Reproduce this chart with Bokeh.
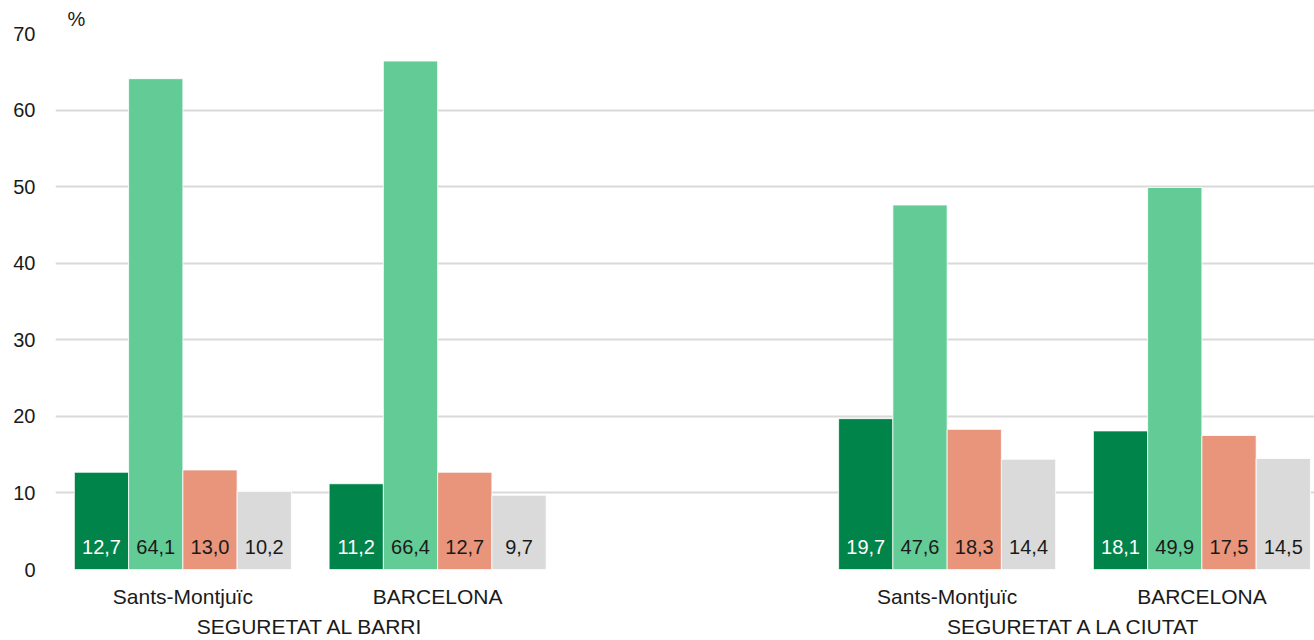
from bokeh.plotting import figure
from bokeh.models import Range1d, FixedTicker, LinearAxis, ColumnDataSource
from bokeh.core.properties import value
from bokeh.embed import file_html
from bokeh.resources import INLINE

subcats = ["Sants-Montjuïc", "BARCELONA", "Sants-Montjuïc", "BARCELONA"]
groups = ["SEGURETAT AL BARRI", "SEGURETAT A LA CIUTAT"]
series = ["S1", "S2", "S3", "S4"]
colors = ["#00844A", "#63CB95", "#E8957C", "#DADADA"]
label_colors = ["white", "#1a1a1a", "#1a1a1a", "#1a1a1a"]
vals = {
    "S1": [12.7, 11.2, 19.7, 18.1],
    "S2": [64.1, 66.4, 47.6, 49.9],
    "S3": [13.0, 12.7, 18.3, 17.5],
    "S4": [10.2, 9.7, 14.4, 14.5],
}
xpos = [0, 1, 3, 4]
group_pos = [0.5, 3.5]
yticks = [0, 10, 20, 30, 40, 50, 60, 70]

FONT = "Liberation Sans"

p = figure(width=1314, height=640, output_backend="svg", toolbar_location=None,
           x_range=Range1d(-0.5, 4.442), y_range=Range1d(0, 70),
           min_border_left=55, min_border_right=0, min_border_top=33, min_border_bottom=60)
p.outline_line_color = None
p.xaxis.visible = False
p.xgrid.visible = False
p.ygrid.grid_line_color = "#D9D9D9"
p.ygrid.grid_line_width = 2
p.yaxis.ticker = FixedTicker(ticks=yticks)
p.yaxis.axis_line_color = None
p.yaxis.major_tick_line_color = None
p.yaxis.minor_tick_line_color = None
p.yaxis.major_tick_out = 0
p.yaxis.major_label_text_font = FONT
p.yaxis.major_label_text_font_size = "20px"
p.yaxis.major_label_text_color = "#1a1a1a"
p.yaxis.major_label_standoff = 20

p.title.text = "%"
p.title.align = "left"
p.title.offset = 12
p.title.standoff = 7
p.title.text_font = FONT
p.title.text_font_size = "20px"
p.title.text_font_style = "normal"
p.title.text_color = "#1a1a1a"

bw = 0.213
offsets = [-1.5 * bw, -0.5 * bw, 0.5 * bw, 1.5 * bw]
for i, s in enumerate(series):
    xs = [x + offsets[i] for x in xpos]
    src = ColumnDataSource(dict(x=xs, top=vals[s],
                                lab=[f"{v:.1f}".replace(".", ",") for v in vals[s]],
                                ly=[3] * len(xs)))
    p.vbar(x="x", top="top", width=bw, bottom=0, source=src,
           fill_color=colors[i], line_color="white", line_width=0.8)
    p.text(x="x", y="ly", text="lab", source=src, text_align="center",
           text_baseline="middle", text_font=value(FONT), text_font_size="20px",
           text_color=label_colors[i])

ax1 = LinearAxis(ticker=FixedTicker(ticks=xpos),
                 major_label_overrides={x: l for x, l in zip(xpos, subcats)})
ax1.axis_line_color = None
ax1.major_tick_line_color = None
ax1.minor_tick_line_color = None
ax1.major_tick_out = 0
ax1.major_label_text_font = FONT
ax1.major_label_text_font_size = "21px"
ax1.major_label_text_color = "#1a1a1a"
ax1.major_label_standoff = 15
p.add_layout(ax1, "below")

ax2 = LinearAxis(ticker=FixedTicker(ticks=group_pos),
                 major_label_overrides={x: l for x, l in zip(group_pos, groups)})
ax2.axis_line_color = None
ax2.major_tick_line_color = None
ax2.minor_tick_line_color = None
ax2.major_tick_out = 0
ax2.major_label_text_font = FONT
ax2.major_label_text_font_size = "21px"
ax2.major_label_text_color = "#1a1a1a"
ax2.major_label_standoff = 4
p.add_layout(ax2, "below")

open("out.html", "w").write(file_html(p, INLINE))
